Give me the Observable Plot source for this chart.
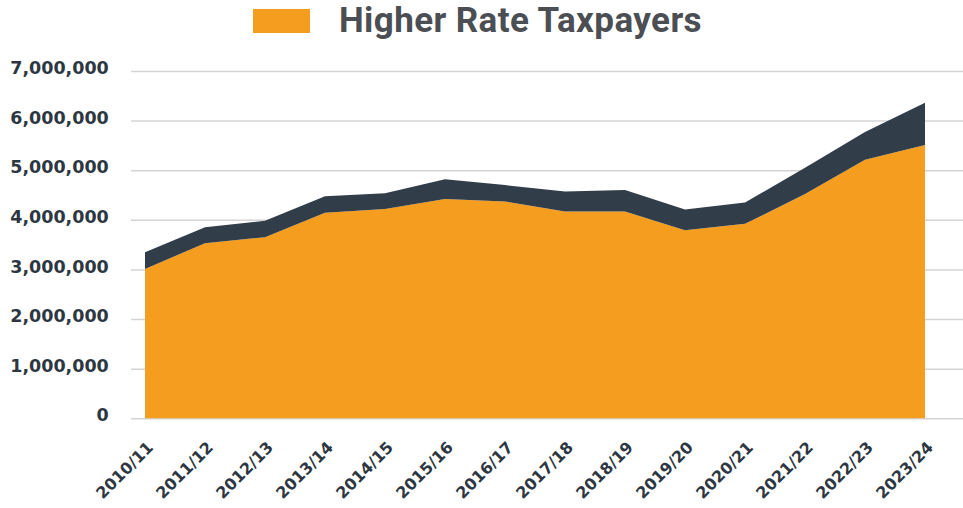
<!DOCTYPE html>
<html>
<head>
<meta charset="utf-8">
<script src="https://cdn.jsdelivr.net/npm/d3@7"></script>
<script src="https://cdn.jsdelivr.net/npm/@observablehq/plot@0.6"></script>
<style>
  html, body { margin: 0; padding: 0; background: #fff; }
  #legend { height: 45px; display: flex; justify-content: center; align-items: flex-start; gap: 29px; padding-right: 8px; box-sizing: border-box; }
  #legend .sw { width: 57px; height: 24px; background: #F59D1E; margin-top: 9px; }
  #legend .lbl { font-family: Roboto, sans-serif; font-weight: 700; font-size: 35px; color: #4b4e53; line-height: 42px; height: 42px; margin-top: 0; letter-spacing: 0.4px; white-space: nowrap; }
  #chart svg { display: block; }
</style>
</head>
<body>
<div id="legend"><div class="sw"></div><div class="lbl">Higher Rate Taxpayers</div></div>
<div id="chart"></div>
<script>
const years = ["2010/11","2011/12","2012/13","2013/14","2014/15","2015/16","2016/17","2017/18","2018/19","2019/20","2020/21","2021/22","2022/23","2023/24"];
const higherRate = [3010000,3530000,3650000,4145000,4220000,4420000,4370000,4170000,4170000,3790000,3920000,4520000,5210000,5510000];
const additionalRate = [337000,320000,330000,330000,316000,400000,330000,400000,430000,420000,430000,530000,560000,850000];
const seriesNames = ["Higher Rate Taxpayers","Additional Rate Taxpayers"];
const seriesColors = ["#F59D1E","#323D4A"];
const yTicks = [0,1000000,2000000,3000000,4000000,5000000,6000000,7000000];

const rows = [];
years.forEach((y, i) => rows.push({year: y, series: seriesNames[0], value: higherRate[i]}));
years.forEach((y, i) => rows.push({year: y, series: seriesNames[1], value: additionalRate[i]}));

const chart = Plot.plot({
  width: 963,
  height: 463,
  marginLeft: 143.3,
  marginRight: 36,
  marginTop: 26,
  marginBottom: 89.7,
  style: {background: "#fff", overflow: "visible"},
  x: {type: "point", domain: years, padding: 0},
  y: {domain: [0, 7000000]},
  color: {domain: seriesNames, range: seriesColors},
  marks: [
    Plot.ruleY(yTicks, {stroke: "#d4d4d4", strokeWidth: 1.5, insetLeft: -12.3, insetRight: -36}),
    Plot.areaY(rows, {x: "year", y: "value", fill: "series", order: seriesNames}),
    Plot.axisY({ticks: yTicks, tickFormat: d3.format(","), tickSize: 0, tickPadding: 35, label: null,
      fontSize: 17.5, fontWeight: "bold", fill: "#2d3742", fontFamily: "DejaVu Sans", dy: -3}),
    Plot.axisX({tickSize: 0, tickRotate: -45, tickPadding: 26, dx: 5, label: null,
      fontSize: 16, fontWeight: "bold", fill: "#2d3742", fontFamily: "DejaVu Sans"})
  ]
});
document.getElementById("chart").appendChild(chart);
</script>
</body>
</html>
